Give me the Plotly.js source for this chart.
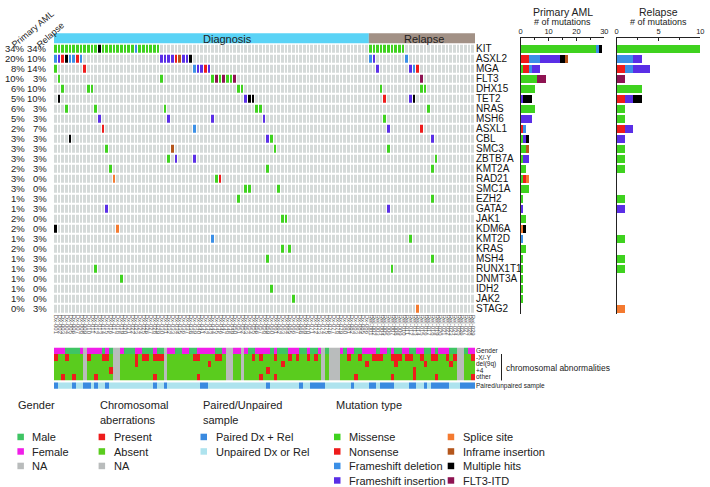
<!DOCTYPE html>
<html><head><meta charset="utf-8">
<script src="https://cdn.plot.ly/plotly-3.0.1.min.js"></script>
<style>html,body{margin:0;padding:0;background:#fff}#chart{width:710px;height:487px}</style>
</head><body><div id="chart"></div>
<script>
// ---------------- DATA ----------------
const genes = ["KIT","ASXL2","MGA","FLT3","DHX15","TET2","NRAS","MSH6","ASXL1","CBL","SMC3","ZBTB7A","KMT2A","RAD21","SMC1A","EZH2","GATA2","JAK1","KDM6A","KMT2D","KRAS","MSH4","RUNX1T1","DNMT3A","IDH2","JAK2","STAG2"];
const primaryPct = ["34%","20%","8%","10%","6%","5%","6%","5%","2%","3%","3%","3%","2%","3%","3%","1%","1%","2%","2%","1%","2%","1%","1%","1%","1%","1%","0%"];
const relapsePct = ["34%","10%","14%","3%","10%","10%","3%","3%","7%","3%","3%","3%","3%","0%","0%","3%","3%","0%","0%","3%","0%","3%","3%","0%","0%","0%","3%"];
const nDiagnosis = 86;
const nRelapse = 29;
// mutation per sample column: M missense, N nonsense, D frameshift del, I frameshift ins,
// S splice site, F inframe ins, X multiple hits, T FLT3-ITD
const mutSpecs = [
  "0-11M 12X 13-21M 22D 23-28M 86-95M",
  "0D 1I 2N 3X 4D 5D 6N 7D 29-32I 33N 34F 35I 36I 37X 86D 87I 96D",
  "0M 8N 38D 39I 40I 41N 42I 88I 97I 98D 99N",
  "1M 29M 43M 44T 45M 46T 47M 48M 49T 100T",
  "2M 9M 10M 50M 51M 89M 100M 101M",
  "1X 52I 53X 54X 90N 97I 98X",
  "3M 11M 30M 55M 56M 102M",
  "12I 31I 43I 57I 90M",
  "13N 38D 91I 100N",
  "4X 58I 59M 103I",
  "14M 32F 60M 91M",
  "31M 33I 38I 104M",
  "15M 58M 103M",
  "16S 44M 45N",
  "52M 53M 61M",
  "50M 103M",
  "14I 91I",
  "62M 63M",
  "0X 17S",
  "43D 97M",
  "62M 64M",
  "58M 103M",
  "11M 92M",
  "18M",
  "59M",
  "65M",
  "99S"
];
const mutTypes = ["Missense","Nonsense","Frameshift deletion","Frameshift insertion","Splice site","Inframe insertion","Multiple hits","FLT3-ITD"];
const mutCodes = ["M","N","D","I","S","F","X","T"];
const mutColors = ["#3fd21f","#ee1b1b","#3b8fe6","#5a2ee6","#f47a30","#b4561c","#000000","#8e1352"];
const barOrder = ["M","N","D","I","S","X","F","T"];
// annotation tracks (86 diagnosis + 29 relapse); gender M/F/N, chromosomal P/A/N, paired P/U
const trackNames = ["Gender","-X/-Y","del(9q)","+4","other"];
const gender = "FFFMMMMFNF"+"FFFMFMNNFM"+"MMFFMMMFMM"+"NFFMMFFMMF"+"FFFFMMFNNF"+"FNFMMFFFFM"+"FMMMFFFMMF"+"MMFNMNNNFM"+"FFMMFF"
             + "FFMFFMFMMF"+"FMMFFMMFMF"+"FFMMNNMFF";
const chrXY  = "PAAPAAAANP"+"AAAPPANNAA"+"AAPAPPAPPP"+"NAAAAAAAPP"+"AAAAPPANNA"+"ANAAPAPAAA"+"PAAAPAPAAP"+"APANANNNAA"+"PAAPAA"
             + "APPPAAPPPA"+"PPAAPAAPPA"+"APAPNNAAP";
const del9q  = "AAAAAAAANA"+"AAAAAANNAA"+"AAPAAAAAAA"+"NAAAAAAAAA"+"AAPAAAANNA"+"ANAAAAAAAA"+"AAPAAAAAAA"+"AAANANNNAA"+"AAAAAP"
             + "AAAAAAAPAA"+"AAAAAPAAAA"+"AAPANNAAA";
const plus4  = "AAAAAAAANA"+"AAAAAPNNAA"+"AAAAAAAAAA"+"NAAAAAAAAA"+"AAAAAAANNA"+"ANAAAAAAPA"+"AAAAAAAAAA"+"AAANANNNAA"+"AAAAAA"
             + "AAAAAAAAAA"+"AAPAAAAAAA"+"AAAANNAAA";
const other  = "AAPAAPAANA"+"APAAAANNAA"+"AAAAAAAPAA"+"NAAAAAAAAP"+"AAAAAAANNA"+"ANAAAAPAAA"+"PAAAAAAAAA"+"AAANANNNAA"+"AAPAAA"
             + "AAAAAAPAAA"+"AAPAAAAAPA"+"AAAANNAAP";
const paired = "PUUUUPUUPP"+"UPUUPUUUUU"+"UUUUUUUPUU"+"PUUUUUUUUU"+"PPUUUUUUUU"+"UUUUUUUUPU"+"UUUUUUUPUU"+"PPPPUUUUUU"+"UPUUUU"
             + "PPUPPPPUUU"+"UPPUUPUPPP"+"PPUUUPPPP";
const sampleIds = Array.from({length:nDiagnosis},(_,i)=>"Dx-"+String(i+1).padStart(3,"0"))
  .concat(Array.from({length:nRelapse},(_,i)=>"Rel-"+String(i+1).padStart(3,"0")));

// ---------------- BUILD ----------------
const W=710,H=487, px=x=>x/W, py=y=>1-y/H;
const nCols = nDiagnosis + nRelapse;
const cols = Array.from({length:nCols},(_,i)=>i);
const rows = genes.map((_,i)=>i);
const FONT = "Arial, 'Liberation Sans', sans-serif";

const matrix = genes.map(()=>new Array(nCols).fill(0));
mutSpecs.forEach((spec,g)=>{
  spec.split(/\s+/).filter(Boolean).forEach(tok=>{
    const m = tok.match(/^(\d+)(?:-(\d+))?([A-Z])$/);
    const a=+m[1], b=m[2]!==undefined?+m[2]:a;
    for(let c=a;c<=b;c++) matrix[g][c] = mutCodes.indexOf(m[3])+1;
  });
});
function discrete(colors){
  const n=colors.length, cs=[];
  colors.forEach((c,i)=>{cs.push([i/n,c]);cs.push([(i+1)/n,c]);});
  return cs;
}
const cellColors = ["#d5dad9"].concat(mutColors);

const trackColors = ["#3fc464","#f01ee8","#b9bcbc","#ee1c1c","#5acc1e","#3a8ae0","#aee3ee"];
const gMap={M:0,F:1,N:2}, cMap={P:3,A:4,N:2}, pMap={P:5,U:6};
const fit=(s,pad)=>s.padEnd(nCols,pad).slice(0,nCols).split("");
const trackZ = [
  fit(gender,"N").map(ch=>gMap[ch]),
  ...[chrXY,del9q,plus4,other].map(s=>fit(s,"N").map(ch=>cMap[ch]))
];
const pairedZ = [fit(paired,"U").map(ch=>pMap[ch])];

const traces = [];
traces.push({type:"heatmap",x:cols,y:rows,z:matrix,xaxis:"x",yaxis:"y",
  colorscale:discrete(cellColors),zmin:-0.5,zmax:cellColors.length-0.5,xgap:1,ygap:2,showscale:false,hoverinfo:"skip"});
traces.push({type:"heatmap",x:cols,y:[0,1,2,3,4],z:trackZ,xaxis:"x2",yaxis:"y2",
  colorscale:discrete(trackColors),zmin:-0.5,zmax:trackColors.length-0.5,showscale:false,hoverinfo:"skip"});
traces.push({type:"heatmap",x:cols,y:[0],z:pairedZ,xaxis:"x3",yaxis:"y3",
  colorscale:discrete(trackColors),zmin:-0.5,zmax:trackColors.length-0.5,showscale:false,hoverinfo:"skip"});

barOrder.forEach(code=>{
  const ti = mutCodes.indexOf(code);
  const dx = genes.map((_,g)=>matrix[g].slice(0,nDiagnosis).filter(v=>v===ti+1).length);
  const rl = genes.map((_,g)=>matrix[g].slice(nDiagnosis).filter(v=>v===ti+1).length);
  traces.push({type:"bar",orientation:"h",y:rows,x:dx,xaxis:"x4",yaxis:"y4",width:0.8,
    marker:{color:mutColors[ti],line:{width:0}},showlegend:false,hoverinfo:"skip"});
  traces.push({type:"bar",orientation:"h",y:rows,x:rl,xaxis:"x5",yaxis:"y5",width:0.8,
    marker:{color:mutColors[ti],line:{width:0}},showlegend:false,hoverinfo:"skip"});
});

const hidden = {showgrid:false,zeroline:false,showticklabels:false,ticks:""};
const matTop=43.7, matBot=313.7, barTop=37.8;
const layout = {
  width:W,height:H,margin:{l:0,r:0,t:0,b:0},paper_bgcolor:"#fff",plot_bgcolor:"#fff",
  font:{family:FONT,color:"#222"},barmode:"stack",bargap:0,showlegend:false,
  xaxis:{domain:[px(54),px(475)],range:[-0.5,nCols-0.5],anchor:"y",showgrid:false,zeroline:false,
    tickvals:cols,ticktext:sampleIds,tickangle:90,tickfont:{size:6,color:"#555"},ticks:""},
  yaxis:{domain:[py(matBot),py(matTop)],range:[genes.length-0.5,-0.5],anchor:"x",side:"right",
    tickvals:rows,ticktext:genes,tickfont:{size:10,color:"#111"},ticks:"",showgrid:false,zeroline:false},
  xaxis2:Object.assign({domain:[px(54),px(475)],range:[-0.5,nCols-0.5],anchor:"y2"},hidden),
  yaxis2:{domain:[py(380.5),py(347.5)],range:[4.5,-0.5],anchor:"x2",side:"right",tickvals:[0,1,2,3,4],
    ticktext:trackNames,tickfont:{size:6.5,color:"#222"},ticks:"",showgrid:false,zeroline:false},
  xaxis3:Object.assign({domain:[px(54),px(475)],range:[-0.5,nCols-0.5],anchor:"y3"},hidden),
  yaxis3:{domain:[py(388.8),py(382.3)],range:[0.5,-0.5],anchor:"x3",side:"right",tickvals:[0],
    ticktext:["Paired/unpaired sample"],tickfont:{size:6.5,color:"#222"},ticks:"",showgrid:false,zeroline:false},
  xaxis4:{domain:[px(520.7),px(604.3)],range:[0,30],anchor:"y4",side:"top",showline:true,linecolor:"#222",linewidth:1,
    ticks:"inside",ticklen:3,tickcolor:"#222",tickvals:[0,10,20,30],tickfont:{size:7.5},showgrid:false,zeroline:false,
    minor:{dtick:5,ticks:"inside",ticklen:2,tickcolor:"#222"}},
  yaxis4:{domain:[py(matBot),py(barTop)],range:[genes.length-0.5,genes.length-0.5-(matBot-barTop)/10],anchor:"x4",
    showline:true,linecolor:"#222",linewidth:1,showticklabels:false,ticks:"",showgrid:false,zeroline:false},
  xaxis5:{domain:[px(616.7),px(700.3)],range:[0,10],anchor:"y5",side:"top",showline:true,linecolor:"#222",linewidth:1,
    ticks:"inside",ticklen:3,tickcolor:"#222",tickvals:[0,5,10],tickfont:{size:7.5},showgrid:false,zeroline:false,
    minor:{dtick:2.5,ticks:"inside",ticklen:2,tickcolor:"#222"}},
  yaxis5:{domain:[py(matBot),py(barTop)],range:[genes.length-0.5,genes.length-0.5-(matBot-barTop)/10],anchor:"x5",
    showline:true,linecolor:"#222",linewidth:1,showticklabels:false,ticks:"",showgrid:false,zeroline:false},
  shapes:[],annotations:[]
};
const S=layout.shapes, A=layout.annotations;
const txt=(o)=>Object.assign({showarrow:false,xanchor:"center",yanchor:"middle",xref:"paper",yref:"paper"},o);
// header bars
S.push({type:"rect",xref:"x",yref:"paper",x0:-0.5,x1:nDiagnosis-0.5,y0:py(43.3),y1:py(33.3),fillcolor:"#5ad3f6",line:{width:0}});
S.push({type:"rect",xref:"x",yref:"paper",x0:nDiagnosis-0.5,x1:nCols-0.5,y0:py(43.3),y1:py(33.3),fillcolor:"#a29186",line:{width:0}});
A.push(txt({xref:"x",x:47,y:py(38.5),text:"Diagnosis",font:{size:11,color:"#222"}}));
A.push(txt({xref:"x",x:100.5,y:py(38.5),text:"Relapse",font:{size:11,color:"#222"}}));
// percentages
genes.forEach((g,i)=>{
  A.push(txt({yref:"y",x:px(26.5),y:i,xanchor:"right",text:primaryPct[i],font:{size:9.5,color:"#222"}}));
  A.push(txt({yref:"y",x:px(48.5),y:i,xanchor:"right",text:relapsePct[i],font:{size:9.5,color:"#222"}}));
});
A.push(txt({x:px(33),y:py(29),text:"Primary AML",textangle:-40,font:{size:9,color:"#222"}}));
A.push(txt({x:px(50.5),y:py(35),text:"Relapse",textangle:-42,font:{size:9,color:"#222"}}));
// bar titles
[[562.5,"Primary AML"],[658.5,"Relapse"]].forEach(([x,t])=>{
  A.push(txt({x:px(x),y:py(12),text:t,font:{size:10.5,color:"#222"}}));
  A.push(txt({x:px(x),y:py(22.5),text:"# of mutations",font:{size:9,color:"#222"}}));
});
// chromosomal bracket
S.push({type:"line",xref:"paper",yref:"paper",x0:px(501.5),x1:px(501.5),y0:py(354),y1:py(380.5),line:{color:"#222",width:1}});
A.push(txt({x:px(504),y:py(367.5),xanchor:"left",text:"chromosomal abnormalities",font:{size:8.5,color:"#222"}}));

// legend
const legendHeaders = [[16,["Gender"]],[97.7,["Chromosomal","aberrations"]],[200.5,["Paired/Unpaired","sample"]],[334,["Mutation type"]]];
const legendHeaderY = [405,420];
legendHeaders.forEach(([x,lines])=>lines.forEach((t,j)=>
  A.push(txt({x:px(x),y:py(legendHeaderY[j]),xanchor:"left",text:t,font:{size:11,color:"#222"}}))));
const legendRowY = [437,451.5,466,480.5];
const legendItems = [
  [17.4,[["Male","#3fc464"],["Female","#f01ee8"],["NA","#b9bcbc"]]],
  [98.6,[["Present","#ee1c1c"],["Absent","#5acc1e"],["NA","#b9bcbc"]]],
  [200.5,[["Paired Dx + Rel","#3a8ae0"],["Unpaired Dx or Rel","#aee3ee"]]],
  [334,mutTypes.slice(0,4).map((t,i)=>[t,mutColors[i]])],
  [447.7,mutTypes.slice(4).map((t,i)=>[t,mutColors[i+4]])]
];
legendItems.forEach(([x,items])=>items.forEach(([t,c],j)=>{
  const y=legendRowY[j];
  S.push({type:"rect",xref:"paper",yref:"paper",x0:px(x),x1:px(x+6.5),y0:py(y+3.2),y1:py(y-3.3),fillcolor:c,line:{width:0}});
  A.push(txt({x:px(x+13),y:py(y),xanchor:"left",text:t,font:{size:11,color:"#222"}}));
}));

Plotly.newPlot("chart",traces,layout,{staticPlot:true,displayModeBar:false});
</script></body></html>
